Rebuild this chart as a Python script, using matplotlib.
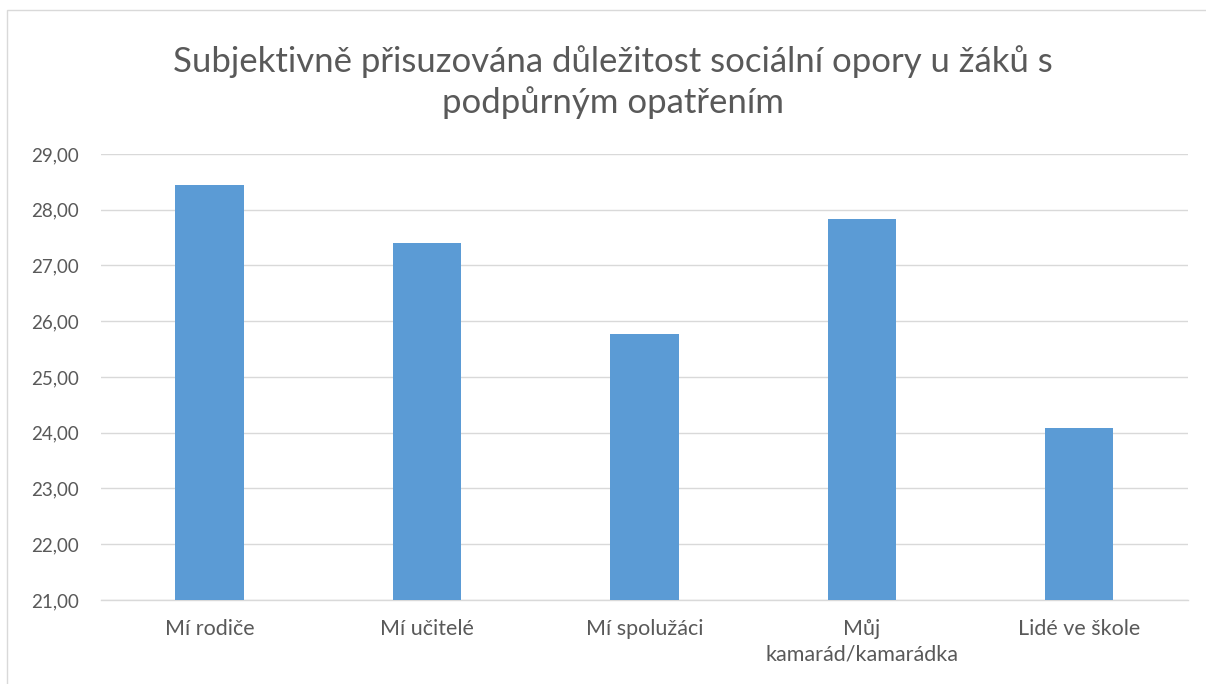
import matplotlib
matplotlib.use("Agg")
import matplotlib.pyplot as plt
from matplotlib.patches import Rectangle

# data
categories = ["Mí rodiče", "Mí učitelé", "Mí spolužáci", "Můj\nkamarád/kamarádka", "Lidé ve škole"]
values = [28.45, 27.40, 25.77, 27.83, 24.08]
yticks = [21, 22, 23, 24, 25, 26, 27, 28, 29]
title = "Subjektivně přisuzována důležitost sociální opory u žáků s\npodpůrným opatřením"

plt.rcParams["font.family"] = ["Lato", "DejaVu Sans"]
text_col = "#595959"

fig = plt.figure(figsize=(12.06, 6.84), dpi=100)
ax = fig.add_axes([0.0837, 0.1228, 0.9013, 0.6521])

x = list(range(len(categories)))
ax.bar(x, values, width=0.315, color="#5b9bd5", zorder=3)

ax.set_ylim(21, 29)
ax.set_xlim(-0.5, len(categories) - 0.5)
ax.set_yticks(yticks)
ax.set_yticklabels([f"{v:.2f}".replace(".", ",") for v in yticks])
ax.set_xticks(x)
ax.set_xticklabels(categories, linespacing=1.3)
ax.tick_params(length=0, colors=text_col)
ax.tick_params(axis="y", pad=16, labelsize=13.5)
ax.tick_params(axis="x", pad=14, labelsize=15.5)
ax.grid(axis="y", color="#d9d9d9", linewidth=1, zorder=0)
for s in ["top", "right", "left"]:
    ax.spines[s].set_visible(False)
ax.spines["bottom"].set_color("#d9d9d9")
ax.spines["bottom"].set_linewidth(1)

fig.text(0.508, 0.880, title, ha="center", va="center", fontsize=25,
         color=text_col, linespacing=1.28)

# chart border
fig.patches.append(Rectangle((7 / 1206, -0.1), 1.2, 1.1 - 10 / 684,
                             transform=fig.transFigure, fill=False,
                             edgecolor="#d9d9d9", linewidth=1))

fig.savefig("out.png", dpi=100)
